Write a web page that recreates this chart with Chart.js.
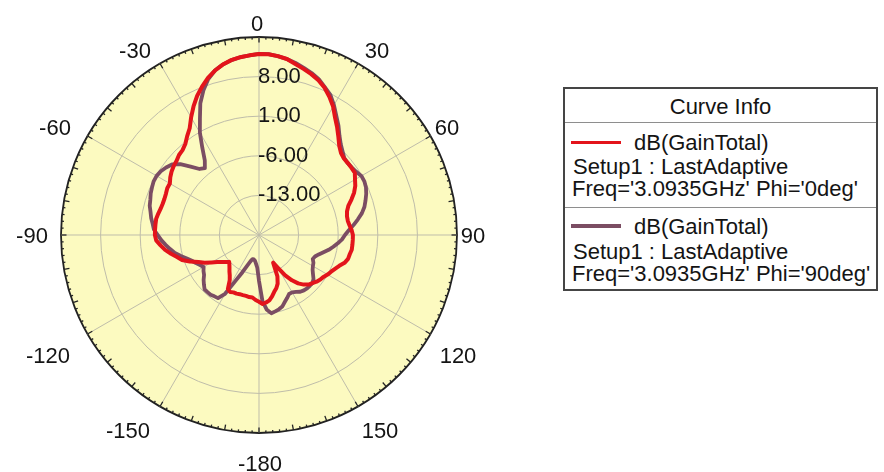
<!DOCTYPE html>
<html>
<head>
<meta charset="utf-8">
<script src="https://cdn.jsdelivr.net/npm/chart.js@4.4.1/dist/chart.umd.min.js"></script>
<style>
  html, body { margin: 0; padding: 0; background: #ffffff; }
  #wrap { position: relative; width: 884px; height: 472px; overflow: hidden;
          font-family: "Liberation Sans", Arial, sans-serif; color: #141414; }
  #c { position: absolute; left: 0; top: 0; }
  #info { position: absolute; left: 563px; top: 87px; width: 311px; height: 200px;
          border: 2px solid #454545; background: #ffffff; }
  #info .sep { position: absolute; left: 0; right: 0; height: 0; border-top: 1.5px solid #8e8e8e; }
  #info .t { position: absolute; white-space: nowrap; font-size: 22px; line-height: 24px; }
  #info .sw { position: absolute; width: 50px; height: 3.5px; }
</style>
</head>
<body>
<div id="wrap">
  <canvas id="c" width="884" height="472"></canvas>
  <div id="info"></div>
</div>
<script>
// Theta (deg) of each sample, clockwise from the top of the polar plot.
const thetaDeg = [
  0, 3, 6, 9, 12, 15, 18, 21, 24, 27,
  30, 33, 36, 39, 42, 45, 48, 51, 54, 57,
  60, 63, 66, 69, 72, 75, 78, 81, 84, 87,
  90, 93, 96, 99, 102, 105, 108, 111, 114, 117,
  120, 123, 126, 129, 132, 135, 138, 141, 144, 147,
  150, 153, 156, 159, 162, 165, 168, 171, 174, 177,
  180, -177, -174, -171, -168, -165, -162, -159, -156, -153,
  -150, -147, -144, -141, -138, -135, -132, -129, -126, -123,
  -120, -117, -114, -111, -108, -105, -102, -99, -96, -93,
  -90, -87, -84, -81, -78, -75, -72, -69, -66, -63,
  -60, -57, -54, -51, -48, -45, -42, -39, -36, -33,
  -30, -27, -24, -21, -18, -15, -12, -9, -6, -3
];

// dB(GainTotal), Phi = 0deg
const gainPhi0 = [
  12.0, 12.0, 11.8, 11.5, 10.9, 10.4, 9.9, 9.3, 8.5, 7.4,
  6.2, 4.7, 3.5, 2.3, 1.2, 0.5, 0.2, 0.2, 0.2, 0.2,
  -0.4, -0.9, -1.6, -2.5, -3.4, -3.9, -4.1, -4.1, -3.9, -3.6,
  -3.4, -3.4, -3.4, -3.4, -3.6, -3.7, -4.1, -4.8, -5.3, -5.7,
  -6.0, -6.4, -6.6, -6.9, -7.3, -7.6, -8.2, -9.0, -10.1, -11.5,
  -13.3, -14.5, -12.0, -10.8, -10.1, -9.6, -8.9, -8.3, -8.0, -7.8,
  -8.2, -8.5, -8.9, -8.9, -9.0, -9.0, -9.0, -8.9, -8.9, -8.7,
  -9.0, -10.5, -11.2, -11.7, -12.2, -12.6, -12.9, -12.4, -11.9, -11.2,
  -10.3, -9.2, -8.3, -6.9, -5.7, -5.0, -4.1, -3.2, -2.5, -1.8,
  -1.6, -1.6, -1.6, -1.6, -1.8, -2.0, -2.1, -2.1, -2.0, -1.8,
  -1.8, -1.3, -0.9, -0.6, -0.4, 0.0, 0.2, 0.7, 1.6, 2.5,
  4.0, 5.5, 6.9, 8.1, 9.2, 10.1, 10.8, 11.3, 11.6, 11.8
];

// dB(GainTotal), Phi = 90deg
const gainPhi90 = [
  12.0, 12.0, 11.8, 11.5, 11.1, 10.6, 10.1, 9.5, 8.6, 7.8,
  6.5, 5.1, 3.9, 2.6, 1.6, 0.9, 0.3, 0.2, 0.3, 0.5,
  0.9, 0.9, 0.7, 0.3, -0.2, -0.7, -1.4, -2.3, -3.2, -4.1,
  -4.8, -5.3, -6.0, -6.7, -7.4, -8.2, -8.9, -9.4, -9.6, -9.2,
  -9.0, -8.7, -8.2, -7.6, -7.3, -7.3, -7.3, -7.4, -7.6, -8.0,
  -8.3, -8.3, -7.8, -7.3, -6.7, -6.4, -6.2, -6.0, -6.7, -8.3,
  -11.9, -14.2, -14.9, -15.4, -15.6, -15.6, -15.1, -14.2, -12.8, -11.0,
  -8.0, -6.7, -6.6, -6.4, -6.4, -6.4, -6.9, -7.4, -8.0, -8.3,
  -8.7, -8.3, -7.8, -7.3, -6.6, -5.7, -4.8, -4.1, -3.4, -2.7,
  -2.1, -1.4, -1.1, -0.7, -0.4, 0.0, 0.2, 0.5, 0.7, 0.9,
  0.9, 0.7, 0.3, -0.2, -1.3, -2.9, -4.3, -4.8, -3.7, -1.6,
  0.9, 3.0, 5.5, 7.4, 9.0, 10.1, 10.8, 11.3, 11.6, 11.8
];

// Radial grid values and their labels
const ringValues = [8, 1, -6, -13];
const ringLabels = ['8.00', '1.00', '-6.00', '-13.00'];

// Angle labels every 30 degrees (every 10th sample)
const angleTickLabels = ['0', '30', '60', '90', '120', '150', '-180', '-150', '-120', '-90', '-60', '-30'];

// Curve info entries
const seriesName = ['dB(GainTotal)', 'dB(GainTotal)'];
const seriesSetup = ['Setup1 : LastAdaptive', 'Setup1 : LastAdaptive'];
const seriesFreq = ["Freq='3.0935GHz' Phi='0deg'", "Freq='3.0935GHz' Phi='90deg'"];
const seriesColor = ['#e3141b', '#7b4d63'];

const FONT = '22px "Liberation Sans", Arial, sans-serif';
const TEXT = '#141414';
const GRID = '#bfbdaa';

// Text centres of the angle labels, relative to the pole (px)
const angleLabelOffset = [
  [-2, -212], [118, -185], [188, -108], [214, 0], [199, 120], [121, 195],
  [1, 228], [-131, 195], [-211, 120], [-227, 0], [-204, -108], [-124, -185]
];

const polarDecor = {
  id: 'polarDecor',
  beforeDatasetsDraw(chart) {
    const s = chart.scales.r;
    const ctx = chart.ctx;
    const cx = s.xCenter, cy = s.yCenter, R = s.drawingArea;
    ctx.save();
    // rim tick marks: long every 10 deg, short every 2 deg
    ctx.strokeStyle = '#242424';
    ctx.lineWidth = 1.3;
    for (let d = 0; d < 360; d += 2) {
      const len = d % 10 === 0 ? 5.5 : 2.5;
      const a = d * Math.PI / 180;
      const sx = Math.sin(a), sy = -Math.cos(a);
      ctx.beginPath();
      ctx.moveTo(cx + sx * R, cy + sy * R);
      ctx.lineTo(cx + sx * (R - len), cy + sy * (R - len));
      ctx.stroke();
    }
    // radial value labels along the 0 deg spoke
    ctx.font = FONT;
    ctx.fillStyle = TEXT;
    ctx.textAlign = 'left';
    ctx.textBaseline = 'alphabetic';
    ringValues.forEach((v, i) => {
      const yc = cy - s.getDistanceFromCenterForValue(v) - 2;
      ctx.fillText(ringLabels[i], cx - 1, yc + 7.9);
    });
    ctx.restore();
  },
  afterDraw(chart) {
    const s = chart.scales.r;
    const ctx = chart.ctx;
    ctx.save();
    ctx.font = FONT;
    ctx.fillStyle = TEXT;
    ctx.textAlign = 'center';
    ctx.textBaseline = 'alphabetic';
    angleTickLabels.forEach((t, i) => {
      const [dx, dy] = angleLabelOffset[i];
      ctx.fillText(t, s.xCenter + dx, s.yCenter + dy + 7.9);
    });
    ctx.restore();
  }
};

new Chart(document.getElementById('c'), {
  type: 'radar',
  data: {
    labels: thetaDeg,
    datasets: [
      {
        label: seriesName[0] + ' ' + seriesSetup[0] + ' ' + seriesFreq[0],
        data: gainPhi0,
        borderColor: seriesColor[0],
        borderWidth: 4,
        fill: false,
        pointRadius: 0,
        pointHoverRadius: 0
      },
      {
        label: seriesName[1] + ' ' + seriesSetup[1] + ' ' + seriesFreq[1],
        data: gainPhi90,
        borderColor: seriesColor[1],
        borderWidth: 3.8,
        fill: false,
        pointRadius: 0,
        pointHoverRadius: 0
      }
    ]
  },
  options: {
    responsive: false,
    animation: false,
    devicePixelRatio: 1,
    layout: { padding: { left: 61, right: 427, top: 37, bottom: 39 } },
    elements: { line: { tension: 0, borderJoinStyle: 'round', borderCapStyle: 'round' } },
    plugins: { legend: { display: false }, tooltip: { enabled: false } },
    scales: {
      r: {
        min: -20,
        max: 15,
        startAngle: 0,
        backgroundColor: '#fcfac0',
        ticks: { stepSize: 7, display: false },
        pointLabels: { display: false },
        grid: {
          circular: true,
          color: (c) => (c.tick && c.tick.value === 15 ? '#222222' : GRID),
          lineWidth: (c) => (c.tick && c.tick.value === 15 ? 1.8 : 1)
        },
        angleLines: {
          display: true,
          color: GRID,
          lineWidth: (c) => (c.index % 10 === 0 ? 1 : 0)
        }
      }
    }
  },
  plugins: [polarDecor]
});

// Curve info box
(function buildInfo() {
  const box = document.getElementById('info');
  const add = (cls, css, text) => {
    const el = document.createElement('div');
    el.className = cls;
    el.style.cssText = css;
    if (text !== undefined) el.textContent = text;
    box.appendChild(el);
    return el;
  };
  add('t', 'left:0;right:0;top:5.6px;text-align:center;', 'Curve Info');
  add('sep', 'top:33.3px;');
  const rowTop = [41.5, 126.3];
  const swatchTop = [51.6, 135];
  seriesName.forEach((name, i) => {
    const y = rowTop[i];
    add('sw', 'left:6px;top:' + swatchTop[i] + 'px;background:' + seriesColor[i] + ';');
    add('t', 'left:69px;top:' + y + 'px;', name);
    add('t', 'left:8px;top:' + (y + 24.3) + 'px;', seriesSetup[i]);
    add('t', 'left:7px;top:' + (y + 46.6) + 'px;', seriesFreq[i]);
  });
  add('sep', 'top:117.7px;');
})();
</script>
</body>
</html>
